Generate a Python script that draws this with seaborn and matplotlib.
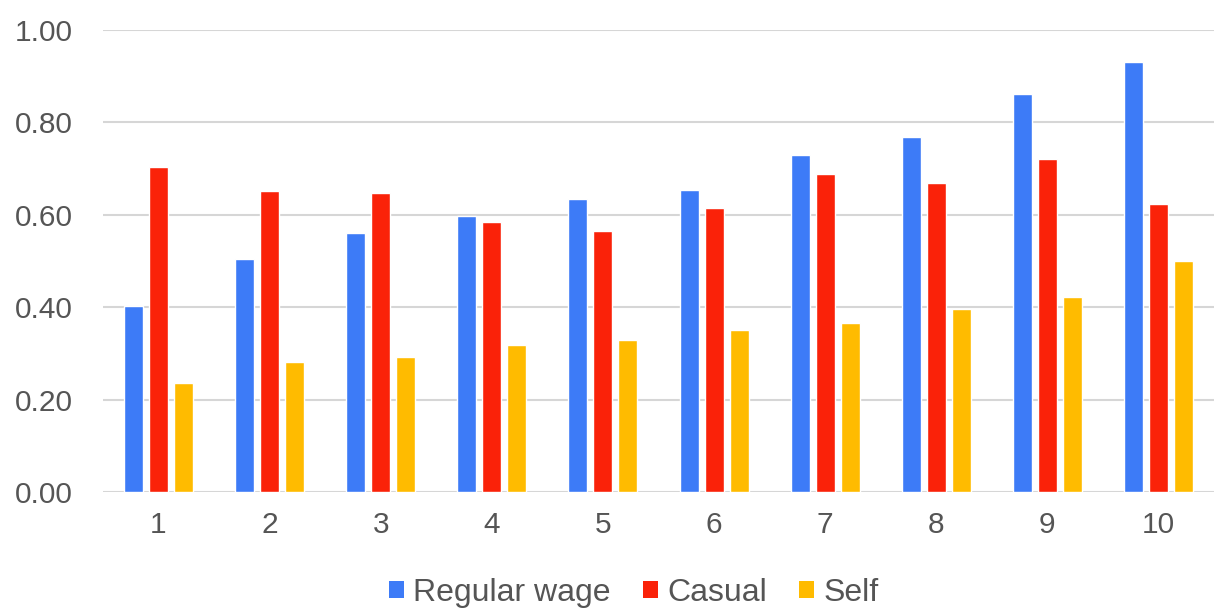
import pandas as pd
import seaborn as sns
import matplotlib.pyplot as plt
from matplotlib.patches import Patch

# Values
groups = ["1", "2", "3", "4", "5", "6", "7", "8", "9", "10"]
regular_wage = [0.403, 0.504, 0.561, 0.597, 0.634, 0.654, 0.729, 0.768, 0.861, 0.931]
casual = [0.703, 0.651, 0.647, 0.584, 0.565, 0.615, 0.688, 0.669, 0.721, 0.623]
self_emp = [0.236, 0.281, 0.292, 0.318, 0.329, 0.351, 0.366, 0.396, 0.422, 0.500]
series_names = ["Regular wage", "Casual", "Self"]
colors = ["#3D7BF7", "#FA2209", "#FFBB00"]
y_ticks = [0.0, 0.2, 0.4, 0.6, 0.8, 1.0]

df = pd.DataFrame({
    "Group": groups * 3,
    "Value": regular_wage + casual + self_emp,
    "Type": [s for s in series_names for _ in groups],
})

sns.set_style("white")
plt.rcParams["font.family"] = ["Liberation Sans", "DejaVu Sans"]

fig = plt.figure(figsize=(12.14, 6.11), dpi=100)
ax = fig.add_axes([0.0848, 0.1948, 0.9152, 0.7561])

sns.barplot(data=df, x="Group", y="Value", hue="Type", hue_order=series_names,
            palette=colors, width=0.675, gap=0.24, saturation=1, legend=False, ax=ax)

ax.set_xlim(-0.5, 9.5)
ax.set_ylim(0, 1.0)
ax.set_yticks(y_ticks)
ax.set_yticklabels([f"{v:.2f}" for v in y_ticks])
ax.grid(axis="y", color="#d6d6d6", linewidth=1.5)
ax.set_axisbelow(True)
for s in ax.spines.values():
    s.set_visible(False)
ax.axhline(0, color="#c8c8c8", linewidth=1.8, zorder=0.5)
ax.tick_params(axis="both", length=0, labelsize=21.5, colors="#555555")
ax.tick_params(axis="y", pad=22)
ax.tick_params(axis="x", pad=14)
ax.set_xlabel("")
ax.set_ylabel("")

handles = [Patch(facecolor=c, edgecolor="none") for c in colors]
fig.legend(handles, series_names, loc="center", bbox_to_anchor=(0.522, 0.03),
           ncol=3, frameon=False, fontsize=23, labelcolor="#555555",
           handlelength=0.47, handleheight=0.47, handletextpad=0.3, columnspacing=1.0)

fig.savefig("out.png", dpi=100)
